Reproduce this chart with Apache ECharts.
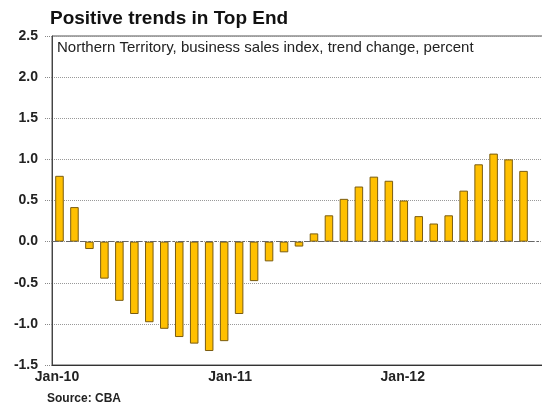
<!DOCTYPE html>
<html>
<head>
<meta charset="utf-8">
<script src="https://cdn.jsdelivr.net/npm/echarts@6/dist/echarts.min.js"></script>
<style>
  html, body { margin: 0; padding: 0; background: #fff; overflow: hidden; }
  #chart { width: 546px; height: 405px; }
</style>
</head>
<body>
<div id="chart"></div>
<script>
// months on the category axis (last one has no bar yet)
const months = [
  'Jan-10', 'Feb-10', 'Mar-10', 'Apr-10', 'May-10', 'Jun-10', 'Jul-10', 'Aug-10', 'Sep-10', 'Oct-10', 'Nov-10', 'Dec-10',
  'Jan-11', 'Feb-11', 'Mar-11', 'Apr-11', 'May-11', 'Jun-11', 'Jul-11', 'Aug-11', 'Sep-11', 'Oct-11', 'Nov-11', 'Dec-11',
  'Jan-12', 'Feb-12', 'Mar-12', 'Apr-12', 'May-12', 'Jun-12', 'Jul-12', 'Aug-12', 'Sep-12'
];
// trend change, percent
const trendChange = [
  0.80, 0.42, -0.09, -0.45, -0.72, -0.88, -0.98, -1.06, -1.16, -1.24, -1.33, -1.21,
  -0.88, -0.48, -0.24, -0.13, -0.06, 0.10, 0.32, 0.52, 0.67, 0.79, 0.74, 0.50,
  0.31, 0.22, 0.32, 0.62, 0.94, 1.07, 1.00, 0.86
];
const yTicks = [-1.5, -1.0, -0.5, 0.0, 0.5, 1.0, 1.5, 2.0, 2.5];

const chart = echarts.init(document.getElementById('chart'));
const font = 'Liberation Sans, Arial, sans-serif';

chart.setOption({
  animation: false,
  title: [
    {
      text: 'Positive trends in Top End',
      left: 50, top: 9,
      padding: 0,
      textStyle: { fontFamily: font, fontSize: 19, fontWeight: 'bold', color: '#111' }
    },
    {
      text: 'Northern Territory, business sales index, trend change, percent',
      left: 56, top: 39,
      backgroundColor: '#fff',
      padding: [1, 1],
      textStyle: { fontFamily: font, fontSize: 15, fontWeight: 'normal', color: '#222' }
    },
    {
      text: 'Source: CBA',
      left: 47, top: 393,
      padding: 0,
      textStyle: { fontFamily: font, fontSize: 12, fontWeight: 'bold', color: '#222' }
    }
  ],
  // plot runs a little past the right edge of the window, as in the cropped original
  grid: {
    left: 52, top: 36, right: 0, bottom: 40,
    show: true, borderColor: '#555', borderWidth: 1, backgroundColor: 'transparent'
  },
  xAxis: {
    type: 'category',
    data: months,
    position: 'bottom',
    axisLine: { onZero: false, lineStyle: { color: '#333', width: 1 } },
    axisTick: { inside: true, length: 5, alignWithLabel: true, interval: 0, lineStyle: { color: '#444' } },
    axisLabel: {
      interval: 11,
      margin: 5,
      fontFamily: font, fontSize: 14, fontWeight: 'bold', color: '#222',
      formatter: function (v, i) {
        const k = ['a', 'b', 'c'][Math.floor(i / 12)] || 'a';
        return '{' + k + '|' + v + '}';
      },
      rich: {
        a: { fontFamily: font, fontSize: 14, fontWeight: 'bold', color: '#222', padding: [0, 5, 0, 0] },
        b: { fontFamily: font, fontSize: 14, fontWeight: 'bold', color: '#222', padding: [0, 18, 0, 0] },
        c: { fontFamily: font, fontSize: 14, fontWeight: 'bold', color: '#222', padding: [0, 32, 0, 0] }
      }
    },
    splitLine: { show: false }
  },
  yAxis: {
    type: 'value',
    min: yTicks[0],
    max: yTicks[yTicks.length - 1],
    interval: 0.5,
    axisLine: { show: true, lineStyle: { color: '#444', width: 1 } },
    axisTick: { show: true, length: 8, lineStyle: { color: '#888', type: 'dotted' } },
    axisLabel: {
      margin: 14,
      fontFamily: font, fontSize: 14, fontWeight: 'bold', color: '#222',
      formatter: v => v.toFixed(1)
    },
    splitLine: { show: true, lineStyle: { color: '#999', type: 'dotted', width: 1 } }
  },
  series: [{
    type: 'bar',
    data: trendChange,
    barWidth: '57%',
    itemStyle: { color: '#FFC000', borderColor: '#7a5c10', borderWidth: 1 },
    markLine: {
      silent: true,
      symbol: 'none',
      label: { show: false },
      lineStyle: { color: '#666', type: [6, 3, 2, 3], width: 1 },
      data: [{ yAxis: 0 }]
    }
  }]
});
</script>
</body>
</html>
